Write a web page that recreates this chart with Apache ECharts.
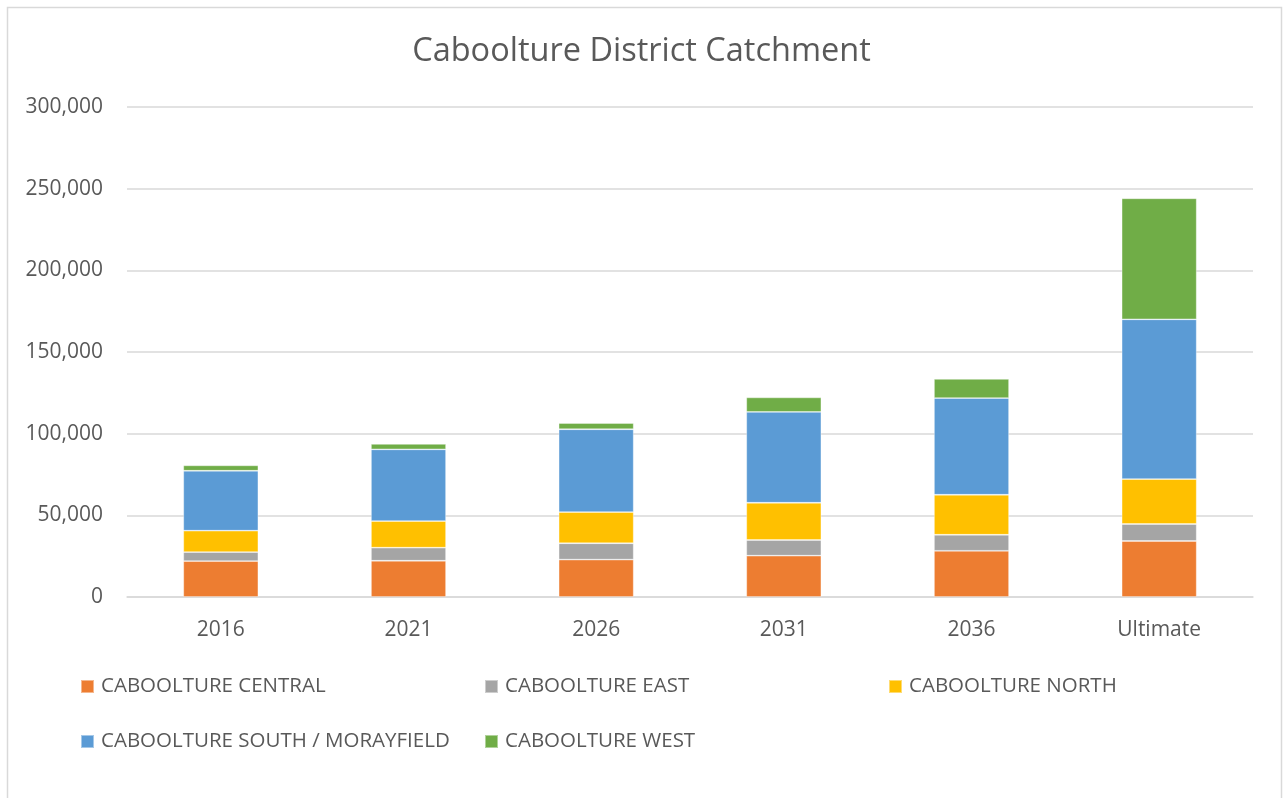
<!DOCTYPE html>
<html lang="en">
  <head>
    <meta charset="UTF-8" />
    <title>Caboolture District Catchment</title>
    <script src="https://cdn.jsdelivr.net/npm/echarts@6/dist/echarts.min.js"></script>
    <style>
      html, body { margin: 0; padding: 0; background: #fff; }
      #main { width: 1283px; height: 798px; }
    </style>
  </head>
  <body>
    <div id="main"></div>
    <script>
      // data
      var years = ["2016", "2021", "2026", "2031", "2036", "Ultimate"];
      var central = [22000, 22200, 22900, 25300, 28300, 34300];
      var east = [5500, 8000, 10000, 9600, 9800, 10400];
      var north = [13100, 16300, 19100, 22800, 24500, 27500];
      var southMorayfield = [36700, 43900, 50700, 55600, 59200, 97800];
      var west = [3300, 3300, 3800, 8900, 11700, 74100];

      var names = [
        "CABOOLTURE CENTRAL",
        "CABOOLTURE EAST",
        "CABOOLTURE NORTH",
        "CABOOLTURE SOUTH / MORAYFIELD",
        "CABOOLTURE WEST",
      ];
      var colors = ["#ED7D31", "#A5A5A5", "#FFC000", "#5B9BD5", "#70AD47"];
      var values = [central, east, north, southMorayfield, west];

      var textColor = "#595959";
      var font = "'Open Sans', sans-serif";

      // one legend per item so the columns line up like the original
      var legendPos = [
        { left: 80, top: 676 },
        { left: 484, top: 676 },
        { left: 888, top: 676 },
        { left: 80, top: 731 },
        { left: 484, top: 731 },
      ];

      var myChart = echarts.init(document.getElementById("main"));

      var option = {
        animation: false,
        color: colors,
        textStyle: { fontFamily: font },
        title: {
          text: "Caboolture District Catchment",
          left: "center",
          top: 30,
          textStyle: {
            color: textColor,
            fontSize: 32.5,
            fontWeight: "normal",
            fontFamily: font,
          },
        },
        legend: names.map(function (n, i) {
          return {
            data: [n],
            left: legendPos[i].left,
            top: legendPos[i].top,
            padding: 0,
            itemWidth: 13,
            itemHeight: 13,
            itemGap: 0,
            icon: "rect",
            textStyle: {
              color: textColor,
              fontSize: 20.5,
              lineHeight: 20,
              fontFamily: font,
              padding: [0, 0, 0, 2],
            },
          };
        }),
        grid: {
          left: 127,
          right: 30,
          top: 107,
          bottom: 201,
        },
        xAxis: {
          type: "category",
          data: years,
          axisLine: { lineStyle: { color: "#D9D9D9", width: 1.5 } },
          axisTick: { show: false },
          axisLabel: {
            color: textColor,
            fontSize: 21,
            margin: 23,
            fontFamily: font,
          },
        },
        yAxis: {
          type: "value",
          min: 0,
          max: 300000,
          interval: 50000,
          axisLine: { show: false },
          axisTick: { show: false },
          splitLine: { lineStyle: { color: "#D9D9D9", width: 1.5 } },
          axisLabel: {
            color: textColor,
            fontSize: 21,
            margin: 24,
            fontFamily: font,
            formatter: function (v) {
              return v.toLocaleString("en-US");
            },
          },
        },
        graphic: [
          {
            type: "rect",
            shape: { x: 7.5, y: 7.5, width: 1274, height: 820 },
            style: { fill: "none", stroke: "#D9D9D9", lineWidth: 1.5 },
            silent: true,
          },
        ],
        series: names.map(function (n, i) {
          return {
            name: n,
            type: "bar",
            stack: "total",
            barWidth: "40%",
            data: values[i],
            itemStyle: {
              color: colors[i],
              borderColor: "rgba(255,255,255,0.45)",
              borderWidth: 0.8,
            },
          };
        }),
      };

      myChart.setOption(option);
    </script>
  </body>
</html>
